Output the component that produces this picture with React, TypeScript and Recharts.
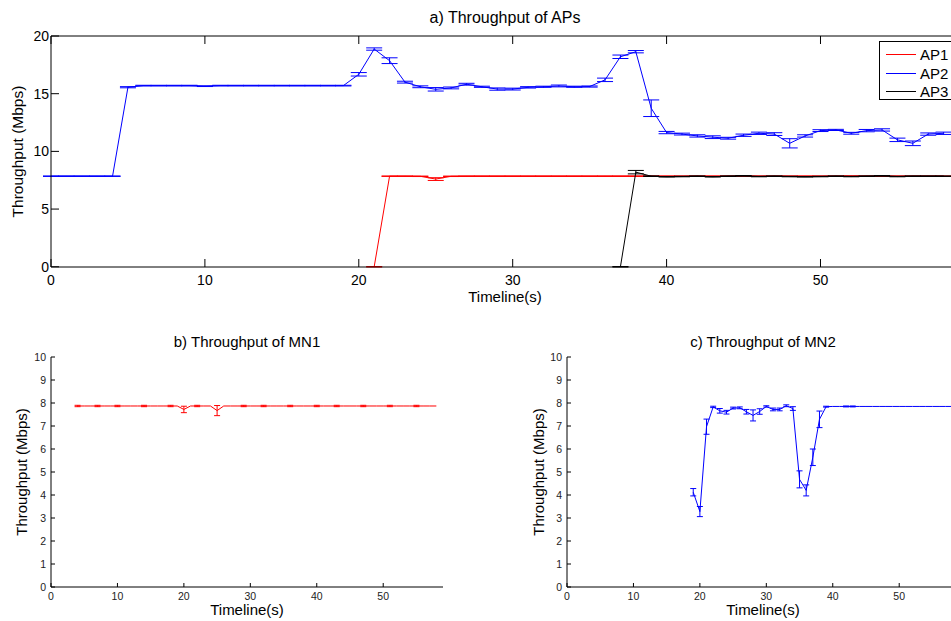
import { LineChart, Line, XAxis, YAxis, ErrorBar, Legend } from "recharts";

// top panel: throughput per AP, one sample per second
const seconds = [
  0, 1, 2, 3, 4, 5, 6, 7, 8, 9, 10, 11, 12, 13, 14, 15, 16, 17, 18, 19,
  20, 21, 22, 23, 24, 25, 26, 27, 28, 29, 30, 31, 32, 33, 34, 35, 36, 37, 38, 39,
  40, 41, 42, 43, 44, 45, 46, 47, 48, 49, 50, 51, 52, 53, 54, 55, 56, 57, 58,
];

const ap1: (number | null)[] = [
  null, null, null, null, null, null, null, null, null, null,
  null, null, null, null, null, null, null, null, null, null,
  null, 0, 7.85, 7.85, 7.84, 7.6, 7.84, 7.85, 7.85, 7.85,
  7.85, 7.85, 7.85, 7.85, 7.85, 7.85, 7.85, 7.85, 7.85, 7.85,
  7.85, 7.85, 7.85, 7.85, 7.85, 7.86, 7.85, 7.85, 7.85, 7.85,
  7.85, 7.85, 7.86, 7.85, 7.85, 7.85, 7.85, 7.85, 7.85,
];
const ap1Err: (number | null)[] = [
  null, null, null, null, null, null, null, null, null, null,
  null, null, null, null, null, null, null, null, null, null,
  null, 0.02, 0.02, 0.02, 0.02, 0.12, 0.02, 0.02, 0.02, 0.02,
  0.02, 0.02, 0.02, 0.02, 0.02, 0.02, 0.02, 0.02, 0.02, 0.02,
  0.02, 0.02, 0.02, 0.02, 0.02, 0.02, 0.02, 0.02, 0.02, 0.02,
  0.02, 0.02, 0.02, 0.02, 0.02, 0.02, 0.02, 0.02, 0.02,
];

const ap2: (number | null)[] = [
  7.85, 7.85, 7.85, 7.85, 7.85, 15.56, 15.7, 15.7, 15.7, 15.7,
  15.65, 15.7, 15.7, 15.7, 15.7, 15.7, 15.7, 15.7, 15.7, 15.7,
  16.68, 18.87, 17.86, 16.0, 15.6, 15.38, 15.5, 15.82, 15.6, 15.4,
  15.4, 15.55, 15.6, 15.67, 15.6, 15.62, 16.2, 18.2, 18.64, 13.74,
  11.63, 11.5, 11.34, 11.23, 11.14, 11.4, 11.57, 11.5, 10.7, 11.34,
  11.8, 11.86, 11.57, 11.8, 11.86, 11.0, 10.7, 11.5, 11.57,
];
const ap2Err: (number | null)[] = [
  0.02, 0.02, 0.02, 0.02, 0.02, 0.05, 0.03, 0.03, 0.03, 0.03,
  0.03, 0.03, 0.03, 0.03, 0.03, 0.03, 0.03, 0.03, 0.03, 0.03,
  0.15, 0.1, 0.25, 0.08, 0.08, 0.15, 0.08, 0.08, 0.05, 0.1,
  0.08, 0.06, 0.05, 0.08, 0.05, 0.05, 0.15, 0.15, 0.1, 0.72,
  0.1, 0.08, 0.1, 0.12, 0.08, 0.1, 0.1, 0.12, 0.4, 0.1,
  0.08, 0.05, 0.08, 0.1, 0.1, 0.15, 0.2, 0.1, 0.1,
];

const ap3: (number | null)[] = [
  null, null, null, null, null, null, null, null, null, null,
  null, null, null, null, null, null, null, null, null, null,
  null, null, null, null, null, null, null, null, null, null,
  null, null, null, null, null, null, null, 0, 8.2, 7.85,
  7.8, 7.82, 7.85, 7.8, 7.85, 7.88, 7.82, 7.85, 7.82, 7.8,
  7.82, 7.85, 7.82, 7.85, 7.88, 7.82, 7.85, 7.85, 7.85,
];
const ap3Err: (number | null)[] = [
  null, null, null, null, null, null, null, null, null, null,
  null, null, null, null, null, null, null, null, null, null,
  null, null, null, null, null, null, null, null, null, null,
  null, null, null, null, null, null, null, 0.02, 0.15, 0.02,
  0.02, 0.02, 0.02, 0.02, 0.02, 0.02, 0.02, 0.02, 0.02, 0.02,
  0.02, 0.02, 0.02, 0.02, 0.02, 0.02, 0.02, 0.02, 0.02,
];

// bottom left: MN1
const mn1Seconds = [
  4, 5, 6, 7, 8, 9, 10, 11, 12, 13, 14, 15, 16, 17, 18, 19,
  20, 21, 22, 23, 24, 25, 26, 27, 28, 29, 30, 31, 32, 33, 34, 35, 36, 37, 38, 39,
  40, 41, 42, 43, 44, 45, 46, 47, 48, 49, 50, 51, 52, 53, 54, 55, 56, 57, 58,
];
const mn1 = [
  7.87, 7.87, 7.87, 7.87, 7.87, 7.87, 7.87, 7.87, 7.87, 7.87, 7.87, 7.87, 7.87, 7.87, 7.87, 7.87,
  7.72, 7.87, 7.87, 7.87, 7.87, 7.67, 7.87, 7.87, 7.87, 7.87, 7.87, 7.87, 7.87, 7.87, 7.87, 7.87,
  7.87, 7.87, 7.87, 7.87, 7.87, 7.87, 7.87, 7.87, 7.87, 7.87, 7.87, 7.87, 7.87, 7.87, 7.87, 7.87,
  7.87, 7.87, 7.87, 7.87, 7.87, 7.87, 7.87,
];
const mn1Err = [
  0.03, 0, 0, 0.03, 0, 0, 0.03, 0, 0, 0, 0.03, 0, 0, 0, 0.03, 0,
  0.14, 0, 0.03, 0, 0, 0.22, 0, 0, 0, 0.03, 0, 0, 0.03, 0, 0, 0,
  0.03, 0, 0, 0, 0.03, 0, 0, 0.03, 0, 0, 0, 0.03, 0, 0, 0, 0.03,
  0, 0, 0, 0.03, 0, 0, 0,
];

// bottom right: MN2
const mn2Seconds = [
  19, 20, 21, 22, 23, 24, 25, 26, 27, 28, 29, 30, 31, 32, 33, 34, 35, 36, 37, 38, 39,
  40, 41, 42, 43, 44, 45, 46, 47, 48, 49, 50, 51, 52, 53, 54, 55, 56, 57, 58,
];
const mn2 = [
  4.12, 3.28, 6.97, 7.83, 7.66, 7.6, 7.78, 7.79, 7.62, 7.46, 7.63, 7.85, 7.72, 7.72, 7.88, 7.76,
  4.68, 4.2, 5.64, 7.29, 7.84,
  7.85, 7.85, 7.85, 7.85, 7.85, 7.85, 7.85, 7.85, 7.85, 7.85, 7.85, 7.85, 7.85, 7.85, 7.85,
  7.85, 7.85, 7.85, 7.85,
];
const mn2Err = [
  0.16, 0.22, 0.33, 0.03, 0.1, 0.08, 0.04, 0.04, 0.1, 0.24, 0.12, 0.03, 0.06, 0.06, 0.04, 0.08,
  0.37, 0.24, 0.36, 0.36, 0.02,
  0, 0, 0.02, 0.02, 0, 0, 0, 0, 0, 0, 0, 0, 0, 0, 0,
  0, 0, 0, 0,
];

const xTicks = [0, 10, 20, 30, 40, 50];
const apTicks = [0, 5, 10, 15, 20];
const mnTicks = [0, 1, 2, 3, 4, 5, 6, 7, 8, 9, 10];

const legendItems = [
  { name: "AP1", color: "#ff0000" },
  { name: "AP2", color: "#0000ff" },
  { name: "AP3", color: "#000000" },
];

const FONT = '"Liberation Sans", Arial, Helvetica, sans-serif';

const topData = seconds.map((t, i) => ({
  t,
  ap1: ap1[i],
  ap2: ap2[i],
  ap3: ap3[i],
  ap1Err: ap1Err[i],
  ap2Err: ap2Err[i],
  ap3Err: ap3Err[i],
}));
const mn1Data = mn1Seconds.map((t, i) => ({ t, v: mn1[i], e: mn1Err[i] }));
const mn2Data = mn2Seconds.map((t, i) => ({ t, v: mn2[i], e: mn2Err[i] }));

function LegendBox() {
  return (
    <div style={{ border: "1px solid #000", background: "#fff", width: 78, height: 59, boxSizing: "border-box", padding: "3px 0 0 6px" }}>
      {legendItems.map((it) => (
        <div key={it.name} style={{ display: "flex", alignItems: "center", height: 18.7, fontSize: 15, color: "#000", fontFamily: FONT }}>
          <span style={{ display: "inline-block", width: 30, height: 1, background: it.color, marginRight: 4 }} />
          {it.name}
        </div>
      ))}
    </div>
  );
}

function Title({ text, x, y, size }: { text: string; x: number; y: number; size: number }) {
  return (
    <div style={{ position: "absolute", left: x - 150, top: y - 10, width: 300, textAlign: "center", fontSize: size, lineHeight: "20px", color: "#000" }}>
      {text}
    </div>
  );
}

function MnChart({ data, color, yLabelOffset, yAxisWidth, marginRight }: { data: any[]; color: string; yLabelOffset: number; yAxisWidth: number; marginRight: number }) {
  const tickStyle = { fill: "#222", fontSize: 10.5, fontFamily: FONT };
  return (
    <LineChart width={460} height={300} data={data} margin={{ top: 37, right: marginRight, left: 0, bottom: 0 }}>
      <XAxis
        dataKey="t"
        type="number"
        domain={[0, 59]}
        ticks={xTicks}
        allowDataOverflow
        height={33}
        tick={tickStyle}
        tickSize={-4}
        tickMargin={10}
        axisLine={{ stroke: "#000" }}
        tickLine={{ stroke: "#000" }}
        label={{ value: "Timeline(s)", position: "insideBottom", offset: 5, fill: "#000", fontSize: 15, fontFamily: FONT }}
      />
      <YAxis
        type="number"
        domain={[0, 10]}
        ticks={mnTicks}
        width={yAxisWidth}
        tick={tickStyle}
        tickSize={-4}
        tickMargin={9}
        axisLine={{ stroke: "#000" }}
        tickLine={{ stroke: "#000" }}
        label={{ value: "Throughput (Mbps)", angle: -90, position: "insideLeft", offset: yLabelOffset, fill: "#000", fontSize: 15, fontFamily: FONT, style: { textAnchor: "middle" } }}
      />
      <Line dataKey="v" stroke={color} strokeWidth={1} dot={false} activeDot={false} isAnimationActive={false}>
        <ErrorBar dataKey="e" width={3} stroke={color} strokeWidth={1} direction="y" isAnimationActive={false} />
      </Line>
    </LineChart>
  );
}

export default function App() {
  const tickStyle = { fill: "#000", fontSize: 14, fontFamily: FONT };
  const axisStroke = { stroke: "#000" };
  return (
    <div style={{ position: "absolute", left: 0, top: 0, width: 951, height: 621, overflow: "hidden", background: "#fff", fontFamily: FONT }}>
      <Title text="a) Throughput of APs" x={505} y={18} size={16} />
      <div style={{ position: "absolute", left: 0, top: 0 }}>
        <LineChart width={1000} height={310} data={topData} margin={{ top: 35, right: 21, left: 0, bottom: 0 }}>
          <XAxis
            dataKey="t"
            type="number"
            domain={[0, 59]}
            ticks={xTicks}
            allowDataOverflow
            height={43}
            tick={tickStyle}
            tickSize={-8}
            tickMargin={16}
            axisLine={axisStroke}
            tickLine={axisStroke}
            label={{ value: "Timeline(s)", position: "insideBottom", offset: 8, fill: "#000", fontSize: 15, fontFamily: FONT }}
          />
          <XAxis
            xAxisId="top"
            orientation="top"
            dataKey="t"
            type="number"
            domain={[0, 59]}
            ticks={xTicks}
            allowDataOverflow
            height={1}
            tickSize={-8}
            tickFormatter={() => ""}
            axisLine={axisStroke}
            tickLine={axisStroke}
          />
          <YAxis
            yAxisId="left"
            type="number"
            domain={[0, 20]}
            ticks={apTicks}
            width={51}
            tick={tickStyle}
            tickSize={-8}
            tickMargin={10}
            axisLine={axisStroke}
            tickLine={axisStroke}
            label={{ value: "Throughput (Mbps)", angle: -90, position: "insideLeft", offset: 17, fill: "#000", fontSize: 15.5, fontFamily: FONT, style: { textAnchor: "middle" } }}
          />
          <YAxis
            yAxisId="right"
            orientation="right"
            type="number"
            domain={[0, 20]}
            ticks={apTicks}
            width={20}
            tickSize={-8}
            tickFormatter={() => ""}
            axisLine={axisStroke}
            tickLine={axisStroke}
          />
          <Line yAxisId="left" dataKey="ap1" stroke="#ff0000" strokeWidth={1} dot={false} activeDot={false} isAnimationActive={false}>
            <ErrorBar dataKey="ap1Err" width={8} stroke="#ff0000" strokeWidth={1} direction="y" isAnimationActive={false} />
          </Line>
          <Line yAxisId="left" dataKey="ap2" stroke="#0000ff" strokeWidth={1} dot={false} activeDot={false} isAnimationActive={false}>
            <ErrorBar dataKey="ap2Err" width={8} stroke="#0000ff" strokeWidth={1} direction="y" isAnimationActive={false} />
          </Line>
          <Line yAxisId="left" dataKey="ap3" stroke="#000000" strokeWidth={1} dot={false} activeDot={false} isAnimationActive={false}>
            <ErrorBar dataKey="ap3Err" width={8} stroke="#000000" strokeWidth={1} direction="y" isAnimationActive={false} />
          </Line>
          <Legend
            layout="vertical"
            align="center"
            verticalAlign="middle"
            content={() => <LegendBox />}
            wrapperStyle={{ left: 879, top: 41, width: 78, height: 59 }}
          />
        </LineChart>
      </div>

      <Title text="b) Throughput of MN1" x={247} y={342} size={15} />
      <div style={{ position: "absolute", left: 0, top: 320 }}>
        <MnChart data={mn1Data} color="#ff0000" yLabelOffset={22} yAxisWidth={51} marginRight={17} />
      </div>

      <Title text="c) Throughput of MN2" x={763} y={342} size={15} />
      <div style={{ position: "absolute", left: 520, top: 320 }}>
        <MnChart data={mn2Data} color="#0000ff" yLabelOffset={19} yAxisWidth={47} marginRight={21} />
      </div>
    </div>
  );
}
